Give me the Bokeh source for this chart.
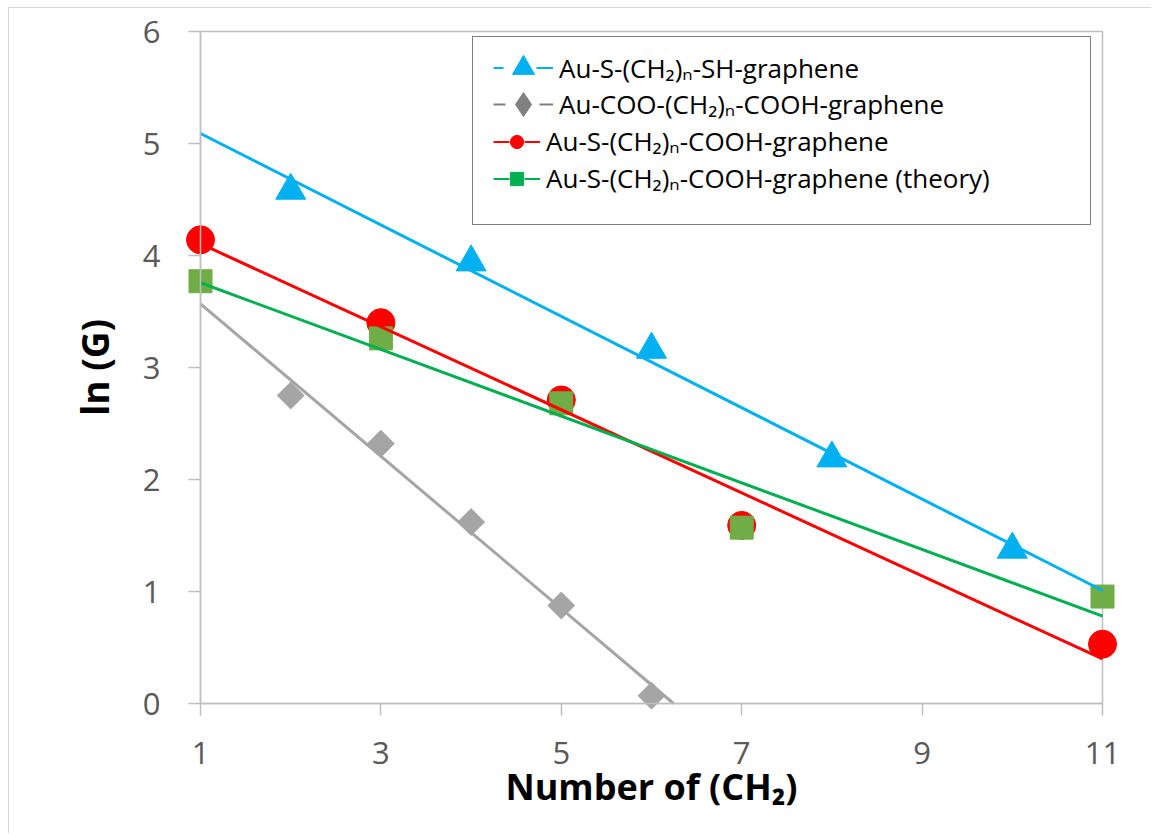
import numpy as np
from bokeh.plotting import figure
from bokeh.models import Range1d, FixedTicker, Legend, LegendItem
from bokeh.embed import file_html
from bokeh.resources import INLINE

# ---- data ----
sh_x = [2, 4, 6, 8, 10]
sh_y = [4.58, 3.94, 3.16, 2.19, 1.375]
coo_x = [2, 3, 4, 5, 6]
coo_y = [2.75, 2.32, 1.62, 0.875, 0.07]
cooh_x = [1, 3, 5, 7, 11]
cooh_y = [4.14, 3.40, 2.71, 1.59, 0.53]
theory_x = [1, 3, 5, 7, 11]
theory_y = [3.77, 3.26, 2.68, 1.57, 0.955]

x_ticks = [1, 3, 5, 7, 9, 11]
y_ticks = [0, 1, 2, 3, 4, 5, 6]
series_labels = [
    "Au-S-(CH₂)ₙ-SH-graphene",
    "Au-COO-(CH₂)ₙ-COOH-graphene",
    "Au-S-(CH₂)ₙ-COOH-graphene",
    "Au-S-(CH₂)ₙ-COOH-graphene (theory)",
]
x_label = "Number of (CH₂)"
y_label = "ln (G)"

FONT = "Open Sans"
NAN = [float("nan")]
X_MIN, X_MAX, Y_MIN, Y_MAX = 1, 11, 0, 6

p = figure(width=1143, height=826, output_backend="svg", toolbar_location=None,
           x_range=Range1d(X_MIN, X_MAX), y_range=Range1d(Y_MIN, Y_MAX),
           min_border_left=191, min_border_right=50, min_border_top=23, min_border_bottom=131)
p.styles = {"margin-left": "8px", "margin-top": "7px",
            "border-left": "1px solid #D9D9D9", "border-top": "1px solid #D9D9D9"}
p.grid.visible = False
p.outline_line_color = "#BFBFBF"
p.outline_line_width = 1.5
p.background_fill_color = "white"
p.border_fill_color = "white"

for ax in (p.xaxis[0], p.yaxis[0]):
    ax.axis_line_color = "#BFBFBF"
    ax.axis_line_width = 1.5
    ax.major_tick_line_color = "#BFBFBF"
    ax.major_tick_line_width = 1.5
    ax.major_tick_in = 0
    ax.major_tick_out = 12
    ax.minor_tick_line_color = None
    ax.major_label_text_font = FONT
    ax.major_label_text_font_size = "31px"
    ax.major_label_text_color = "#595959"
    ax.axis_label_text_font = FONT
    ax.axis_label_text_font_style = "bold"
    ax.axis_label_text_color = "black"

p.xaxis.axis_label_text_font_size = "36px"
p.yaxis.axis_label_text_font_size = "37px"
p.xaxis.ticker = FixedTicker(ticks=x_ticks)
p.yaxis.ticker = FixedTicker(ticks=y_ticks)
p.xaxis.axis_label = x_label
p.yaxis.axis_label = y_label
p.xaxis.major_label_standoff = 26
p.yaxis.major_label_standoff = 28
p.xaxis.axis_label_standoff = -5
p.yaxis.axis_label_standoff = 20

# ---- markers (not clipped at the frame edge, like the reference) ----
p.scatter(sh_x, sh_y, marker="triangle", size=30, fill_color="#00B0F0",
          line_color="#00B0F0", level="guide")
p.scatter(coo_x, coo_y, marker="square", angle=np.pi / 4, size=19,
          fill_color="#A5A5A5", line_color="#A5A5A5", level="guide")
p.scatter(cooh_x, cooh_y, marker="circle", size=28, fill_color="#FF0000",
          line_color="#FF0000", level="guide")
p.scatter(theory_x, theory_y, marker="square", size=23, fill_color="#70AD47",
          line_color="#70AD47", level="guide")

# ---- linear trendlines (least squares fit of each series), drawn over the markers ----
for xs, ys, col in [(coo_x, coo_y, "#A5A5A5"), (sh_x, sh_y, "#00B0F0"),
                    (cooh_x, cooh_y, "#FF0000"), (theory_x, theory_y, "#00B050")]:
    k, b = np.polyfit(xs, ys, 1)
    x_end = X_MAX
    if k * X_MAX + b < Y_MIN:          # stop where the trendline leaves the plot area
        x_end = (Y_MIN - b) / k
    lx = np.array([X_MIN, x_end], dtype=float)
    p.line(lx, k * lx + b, line_color=col, line_width=3, level="guide")

# ---- legend ----
box_dummy = p.line(NAN, NAN, line_alpha=0)
box = Legend(items=[LegendItem(label=" ", renderers=[box_dummy])],
             location=(272, 478), padding=0, margin=0, spacing=0,
             glyph_width=1, glyph_height=187, label_height=187, label_width=616,
             label_standoff=0, border_line_color="black", border_line_width=1.5,
             background_fill_color="white", background_fill_alpha=1)
p.add_layout(box, "center")

leg_specs = [
    # label, line colour, marker, marker colour, glyph w, glyph h, dash, loc y
    (series_labels[0], "#00B0F0", "triangle", "#00B0F0", 60, 55, "10 33 17", 608),
    (series_labels[1], "#808080", "diamond", "#808080", 60, 60, "12 34 14", 569),
    (series_labels[2], "#FF0000", "circle", "#FF0000", 47, 33, "16 15 16", 544),
    (series_labels[3], "#00B050", "square", "#00B050", 47, 33, "16 15 16", 507),
]
for lab, lc, mk, mc, gw, gh, dash, ly in leg_specs:
    rl = p.line(NAN, NAN, line_color=lc, line_width=2, line_dash=dash)
    rm = p.scatter(NAN, NAN, marker=mk, fill_color=mc, line_color=mc)
    lg = Legend(items=[LegendItem(label=lab, renderers=[rl, rm])],
                location=(293, ly), padding=0, margin=0, spacing=0,
                glyph_width=gw, glyph_height=gh, label_height=gh, label_standoff=6,
                label_text_font=FONT, label_text_font_size="26px", label_text_color="black",
                border_line_color=None, background_fill_alpha=0)
    p.add_layout(lg, "center")

open("out.html", "w").write(file_html(p, INLINE))
